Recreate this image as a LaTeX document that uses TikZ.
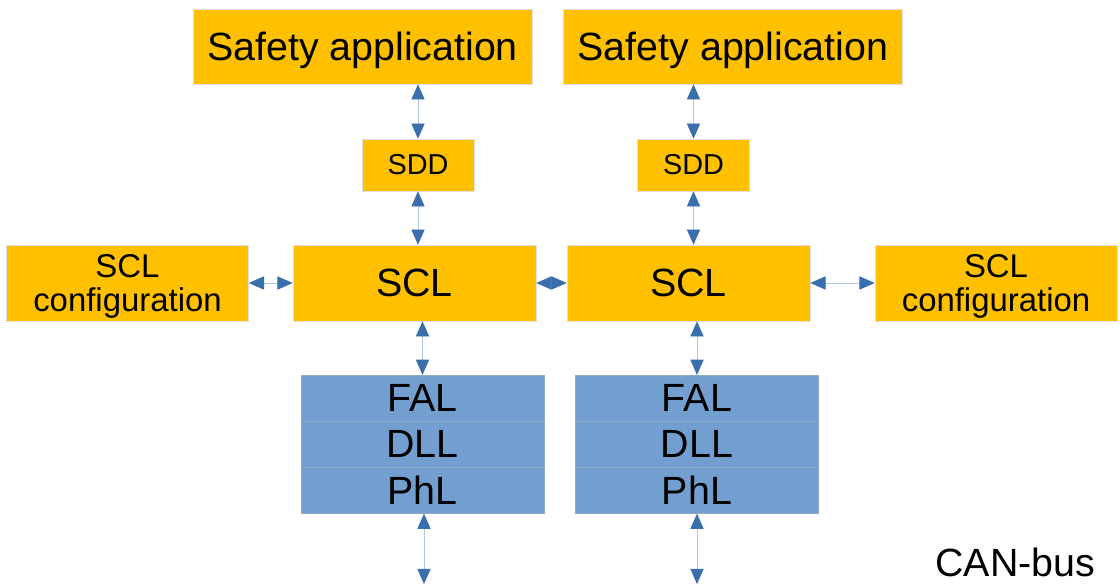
\documentclass[tikz,border=0pt]{standalone}
\usepackage{fontspec}
\setmainfont{Liberation Sans}
\usepackage{xcolor}
\usepackage{tikz}
\usetikzlibrary{arrows.meta,positioning}

\definecolor{sclorange}{HTML}{FFC000}
\definecolor{layerblue}{HTML}{729FCF}
\definecolor{tipblue}{HTML}{3A6EAD}
\definecolor{linkblue}{HTML}{B4C7DC}

\begin{document}
\begin{tikzpicture}[
        x=0.025cm, y=-0.025cm,
        block/.style={
            draw=gray!25,
            fill=sclorange,
            align=center,
            inner sep=0pt,
            line width=0.4pt
        },
        appbox/.style={
            block,
            minimum width=8.475cm,
            minimum height=1.875cm,
            text depth=0pt,
            font=\fontsize{28}{30}\selectfont
        },
        sddbox/.style={
            block,
            minimum width=2.8cm,
            minimum height=1.3cm,
            font=\fontsize{20.5}{22}\selectfont
        },
        sclbox/.style={
            block,
            minimum width=6.075cm,
            minimum height=1.9cm,
            font=\fontsize{28}{30}\selectfont
        },
        cfgbox/.style={
            block,
            minimum width=6.05cm,
            minimum height=1.9cm,
            text depth=0pt,
            font=\fontsize{23.4}{24.5}\selectfont
        },
        layer/.style={
            draw=layerblue!85!black!70,
            fill=layerblue,
            inner sep=0pt,
            minimum width=6.075cm,
            minimum height=1.142cm,
            font=\fontsize{28}{30}\selectfont
        },
        arrow/.style={
            {Triangle[length=0.38cm,width=0.33cm,color=tipblue]}-{Triangle[length=0.38cm,width=0.33cm,color=tipblue]},
            draw=linkblue,
            line width=0.6pt
        }
    ]

        \useasboundingbox (0,0) rectangle (1120,585);

        % left side
        \node[appbox] (appL) at (362.5,46.5) {Safety application};
        \node[sddbox] (sddL) at (418,165) {SDD};
        \node[sclbox] (sclL) at (414.5,283) {SCL};
        \node[cfgbox] (cfgL) at (127.5,283) {SCL\\configuration};
        \node[layer] (falL) at (422.5,398) {FAL};
        \node[layer, below=0pt of falL] (dllL) {DLL};
        \node[layer, below=0pt of dllL] (phlL) {PhL};
        \coordinate (busL) at (424,584);

        % right side
        \node[appbox] (appR) at (733,46.5) {Safety application};
        \node[sddbox] (sddR) at (693.5,165) {SDD};
        \node[sclbox] (sclR) at (688.5,283) {SCL};
        \node[cfgbox] (cfgR) at (996,283) {SCL\\configuration};
        \node[layer] (falR) at (697,398) {FAL};
        \node[layer, below=0pt of falR] (dllR) {DLL};
        \node[layer, below=0pt of dllR] (phlR) {PhL};
        \coordinate (busR) at (697,584);

        \node[anchor=base east, font=\fontsize{28}{30}\selectfont] (can) at (1100,576) {CAN-bus};

        \draw[arrow] (appL.south -| sddL) -- (sddL);
        \draw[arrow] (sddL) -- (sddL |- sclL.north);
        \draw[arrow] (sclL.south -| falL) -- (falL);
        \draw[arrow] (phlL.south -| busL) -- (busL);
        \draw[arrow] (cfgL) -- (sclL);
        \draw[arrow] (sclL) -- (sclR);

        \draw[arrow] (appR.south -| sddR) -- (sddR);
        \draw[arrow] (sddR) -- (sddR |- sclR.north);
        \draw[arrow] (sclR.south -| falR) -- (falR);
        \draw[arrow] (phlR.south -| busR) -- (busR);
        \draw[arrow] (sclR) -- (cfgR);

    \end{tikzpicture}
\end{document}
